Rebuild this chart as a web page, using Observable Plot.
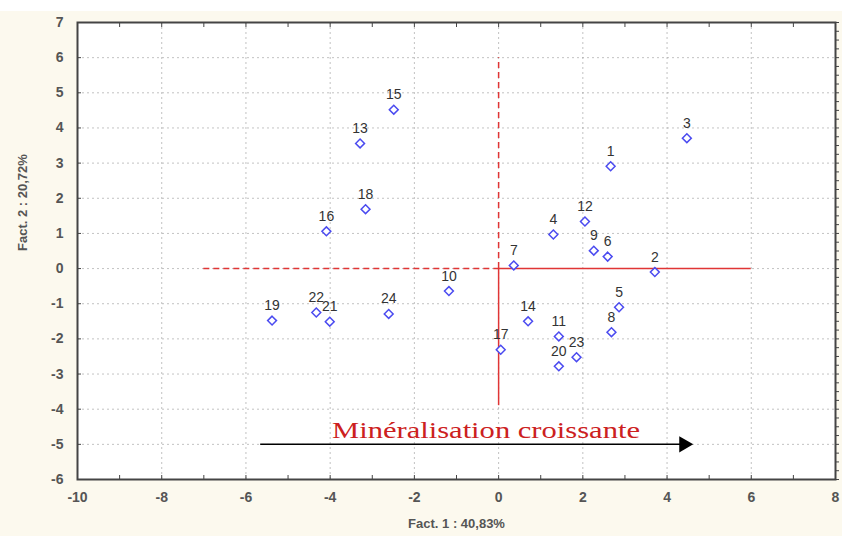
<!DOCTYPE html>
<html>
<head>
<meta charset="utf-8">
<script src="https://cdn.jsdelivr.net/npm/d3@7"></script>
<script src="https://cdn.jsdelivr.net/npm/@observablehq/plot@0.6"></script>
<style>
  html, body { margin: 0; padding: 0; background: #ffffff; }
  #wrap { position: absolute; left: 0; top: 11px; width: 842px; height: 525px; background: #fcf9ee; }
  svg { display: block; }
</style>
</head>
<body>
<div id="wrap"></div>
<script>
// Observations (ids) and their coordinates on the two factors
const ids   = ["1","2","3","4","5","6","7","8","9","10","11","12","13","14","15","16","17","18","19","20","21","22","23","24"];
const fact1 = [2.66, 3.71, 4.47, 1.30, 2.86, 2.59, 0.36, 2.68, 2.26, -1.18, 1.43, 2.05, -3.29, 0.70, -2.49, -4.09, 0.05, -3.16, -5.38, 1.43, -4.01, -4.33, 1.85, -2.61];
const fact2 = [2.91, -0.10, 3.71, 0.97, -1.10, 0.34, 0.09, -1.81, 0.51, -0.64, -1.93, 1.34, 3.56, -1.50, 4.52, 1.06, -2.31, 1.69, -1.48, -2.78, -1.51, -1.25, -2.52, -1.29];

// Axis ticks
const xTicks = [-10, -8, -6, -4, -2, 0, 2, 4, 6, 8];
const yTicks = [-6, -5, -4, -3, -2, -1, 0, 1, 2, 3, 4, 5, 6, 7];
const xMinor = d3.range(-10, 8.001, 1);
const yMinorRight = d3.range(-6, 7.001, 0.25);

// Reference axes (red) : horizontal at Fact.2 = 0 and vertical at Fact.1 = 0
const hDashed = [{x1: -7, x2: 0, y: 0}];
const hSolid  = [{x1: 0, x2: 6, y: 0}];
const vDashed = [{y1: 0, y2: 6, x: 0}];
const vSolid  = [{y1: -3.9, y2: 0, x: 0}];

// Annotation arrow
const arrowSeg = [{x1: -5.65, x2: 4.4, y: -5}];
const arrowHead = [{x: 4.4, y: -5}];
const annotation = [{x: -0.3, y: -4.6, text: "Minéralisation croissante"}];

const xTitle = "Fact. 1 : 40,83%";
const yTitle = "Fact. 2 : 20,72%";

const points = ids.map((id, i) => ({id, x: fact1[i], y: fact2[i]}));

const chart = Plot.plot({
  width: 842,
  height: 525,
  marginLeft: 77,
  marginRight: 7,
  marginTop: 11,
  marginBottom: 57,
  style: {background: "transparent", fontFamily: "Liberation Sans, Arial, sans-serif"},
  x: {domain: [-10, 8]},
  y: {domain: [-6, 7]},
  marks: [
    Plot.frame({fill: "white"}),
    Plot.gridX(xTicks.slice(1, -1), {stroke: "#9a9a9a", strokeOpacity: 0.6, strokeDasharray: "2,3"}),
    Plot.gridY(yTicks.slice(1, -1), {stroke: "#9a9a9a", strokeOpacity: 0.6, strokeDasharray: "2,3"}),
    Plot.axisX({ticks: xTicks, tickSize: 0, tickPadding: 13, tickFormat: d => String(d), fontSize: 14, fontWeight: "bold", fill: "#555", label: null}),
    Plot.axisY({ticks: yTicks, tickSize: 0, tickPadding: 14, tickFormat: d => String(d), fontSize: 14, fontWeight: "bold", fill: "#555", label: null}),
    Plot.axisX({ticks: xMinor, tickSize: -4, tickFormat: () => "", label: null, stroke: "#444"}),
    Plot.axisX({anchor: "top", ticks: xMinor, tickSize: -4, tickFormat: () => "", label: null, stroke: "#444"}),
    Plot.axisY({ticks: yTicks, tickSize: -4, tickFormat: () => "", label: null, stroke: "#444"}),
    Plot.axisY({anchor: "right", ticks: yMinorRight, tickSize: 3, tickFormat: () => "", label: null, stroke: "#444"}),
    Plot.ruleY(hDashed, {x1: "x1", x2: "x2", y: "y", stroke: "#e03535", strokeWidth: 1.5, strokeDasharray: "6,4"}),
    Plot.ruleY(hSolid, {x1: "x1", x2: "x2", y: "y", stroke: "#e03535", strokeWidth: 1.5}),
    Plot.ruleX(vDashed, {y1: "y1", y2: "y2", x: "x", stroke: "#e03535", strokeWidth: 1.5, strokeDasharray: "6,4"}),
    Plot.ruleX(vSolid, {y1: "y1", y2: "y2", x: "x", stroke: "#e03535", strokeWidth: 1.5}),
    Plot.ruleY(arrowSeg, {x1: "x1", x2: "x2", y: "y", stroke: "black", strokeWidth: 1.5}),
    Plot.dot(arrowHead, {x: "x", y: "y", symbol: "triangle", rotate: 90, r: 6, fill: "black", stroke: "none"}),
    Plot.text(annotation, {x: "x", y: "y", text: "text", fill: "#cc2020", fontSize: 23, fontFamily: "Liberation Serif, Times New Roman, serif", className: "anno"}),
    Plot.dot(points, {x: "x", y: "y", symbol: "diamond2", r: 4, stroke: "#4b4bf0", strokeWidth: 1.5, fill: "white"}),
    Plot.text(points, {x: "x", y: "y", text: "id", dy: -15, fontSize: 14, fill: "#333"}),
    Plot.frame({stroke: "#444", strokeWidth: 2}),
    Plot.text([xTitle], {frameAnchor: "bottom", dy: 48, text: d => d, fontSize: 13, fontWeight: "bold", fill: "#555"}),
    Plot.text([yTitle], {frameAnchor: "left", dx: -55, rotate: -90, text: d => d, fontSize: 13, fontWeight: "bold", fill: "#555"})
  ]
});
chart.querySelectorAll(".anno text").forEach(t => {
  t.setAttribute("textLength", 308);
  t.setAttribute("lengthAdjust", "spacingAndGlyphs");
});
document.getElementById("wrap").appendChild(chart);
</script>
</body>
</html>
